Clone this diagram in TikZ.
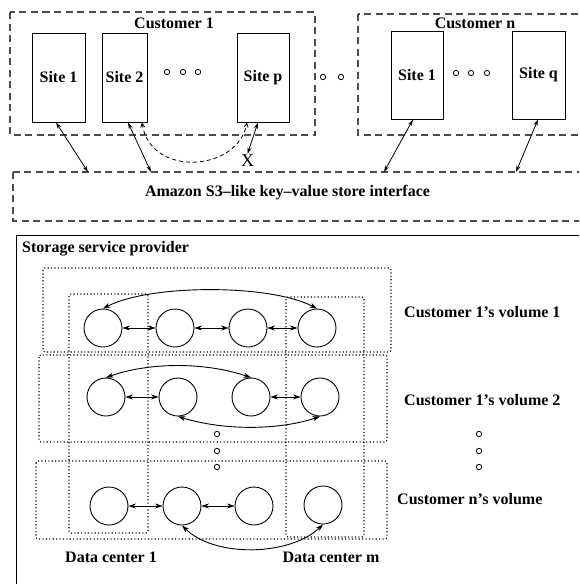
\documentclass[tikz,border=0pt]{standalone}
\usepackage{fontspec}
\setmainfont{Liberation Serif}
\usetikzlibrary{arrows.meta}
\tikzset{
  lbl/.style={font=\fontsize{16}{18}\selectfont\bfseries, inner sep=0pt},
  sitebox/.style={draw, line width=0.9pt, inner sep=0pt, minimum height=89pt, lbl},
  custbox/.style={draw=black!70, line width=1.1pt, dash pattern=on 7pt off 4.5pt},
  dotbox/.style={draw=black, line width=1.1pt, dash pattern=on 1.1pt off 2.3pt, rounded corners=2pt},
  replica/.style={circle, draw, line width=0.9pt, minimum size=38pt, inner sep=0pt},
  link/.style={line width=0.9pt, {Stealth[length=7.5pt,width=5pt]}-{Stealth[length=7.5pt,width=5pt]}},
  access/.style={line width=0.8pt, {Stealth[length=6.5pt,width=4pt]}-{Stealth[length=6.5pt,width=4pt]}},
  ellip/.style={line width=0.8pt}
}
\begin{document}
\begin{tikzpicture}[x=1pt,y=-1pt]
\useasboundingbox (0,0) rectangle (579,584);
\clip (0,0) rectangle (579,584);

% ---- customers and their sites ----
\draw[custbox] (10,12) rectangle (315,135);
\draw[custbox] (358,14) rectangle (600,135);
\node[lbl] (cust1) at (174,23) {Customer 1};
\node[lbl] (custn) at (475,23) {Customer n};

\node[sitebox, minimum width=53pt] (c1s1) at (58.5,77.5) {Site 1};
\node[sitebox, minimum width=45pt] (c1s2) at (124.5,77.5) {Site 2};
\node[sitebox, minimum width=52pt] (c1sp) at (263,77.5) {Site p};
\node[sitebox, minimum width=52pt, minimum height=88pt] (cns1) at (417,75) {Site 1};
\node[sitebox, minimum width=53pt, minimum height=88pt] (cnsq) at (538.5,75) {Site q};

\foreach \x/\y in {167/72,183/72,198/72,323/77,341/77,456/73,471/73,487/73}
  \draw[ellip] (\x,\y) circle (2.7);

% ---- key-value store interface ----
\draw[custbox] (13,172) rectangle (600,221);
\node[lbl] (iface) at (287.5,193) {Amazon S3--like key--value store interface};

\coordinate (i1) at (88,172);
\coordinate (i2) at (151,172);
\coordinate (i3) at (384,172);
\coordinate (i4) at (516,172);
\node[font=\fontsize{18}{18}\selectfont, inner sep=0pt] (xmark) at (247.5,161) {X};

\draw[access] ([xshift=-2.5pt]c1s1.south) -- (i1);
\draw[access] ([xshift=3.5pt]c1s2.south) -- (i2);
\draw[access] ([xshift=-4pt]cns1.south) -- (i3);
\draw[access] ([xshift=-0.5pt]cnsq.south) -- (i4);
\draw[access] ([xshift=-5pt]c1sp.south) -- ([yshift=1pt]xmark.north);
\draw[line width=0.8pt, dash pattern=on 4pt off 3pt, {Straight Barb[length=4pt,width=4pt]}-{Straight Barb[length=4pt,width=4pt]}]
  ([xshift=17.5pt]c1s2.south) .. controls (150,178) and (238,172) .. ([xshift=-16pt]c1sp.south);

% ---- storage service provider ----
\draw[line width=1pt] (16,235) rectangle (600,600);
\node[lbl, anchor=west] (ssp) at (22,249) {Storage service provider};

\draw[dotbox] (43,268) rectangle (391,352);
\draw[dotbox] (39,355) rectangle (387,442);
\draw[dotbox] (36,461) rectangle (387,539);
\draw[dotbox] (69,294) rectangle (148,533);
\draw[dotbox] (286,297) rectangle (364,537);

% volume 1
\node[replica] (a1) at (103,328) {};
\node[replica] (a2) at (175,328) {};
\node[replica] (a3) at (248,328) {};
\node[replica] (a4) at (317,328) {};
\draw[link] (a1) -- (a2);
\draw[link] (a2) -- (a3);
\draw[link] (a3) -- (a4);
\draw[link] (a1.north) .. controls (150,284) and (270,284) .. (a4.north);

% volume 2
\node[replica] (b1) at (106,397) {};
\node[replica] (b2) at (178,397) {};
\node[replica] (b3) at (251,397) {};
\node[replica] (b4) at (320,397) {};
\draw[link] (b1) -- (b2);
\draw[link] (b3) -- (b4);
\draw[link] (b1.north) .. controls (150,362) and (205,362) .. (b3.north);
\draw[link] (b2.south) .. controls (225,431) and (280,430) .. (b4.south);

% customer n's volume
\node[replica] (d1) at (109,506) {};
\node[replica] (d2) at (182,506) {};
\node[replica] (d3) at (254,506) {};
\node[replica] (d4) at (323,505) {};
\draw[link] (d1) -- (d2);
\draw[link] (d2) -- (d3);
\draw[link] (d2.south) .. controls (215,558) and (290,556) .. (d4.south);

\foreach \x in {217,479}
  \foreach \y in {434,451,467}
    \draw[ellip] (\x,\y) circle (2.7);

\node[lbl, anchor=west] (v1) at (404,312) {Customer 1’s volume 1};
\node[lbl, anchor=west] (v2) at (404,400) {Customer 1’s volume 2};
\node[lbl, anchor=west] (vn) at (397,499) {Customer n’s volume};
\node[lbl] (dc1) at (111,557) {Data center 1};
\node[lbl] (dcm) at (331,557) {Data center m};
\end{tikzpicture}
\end{document}
